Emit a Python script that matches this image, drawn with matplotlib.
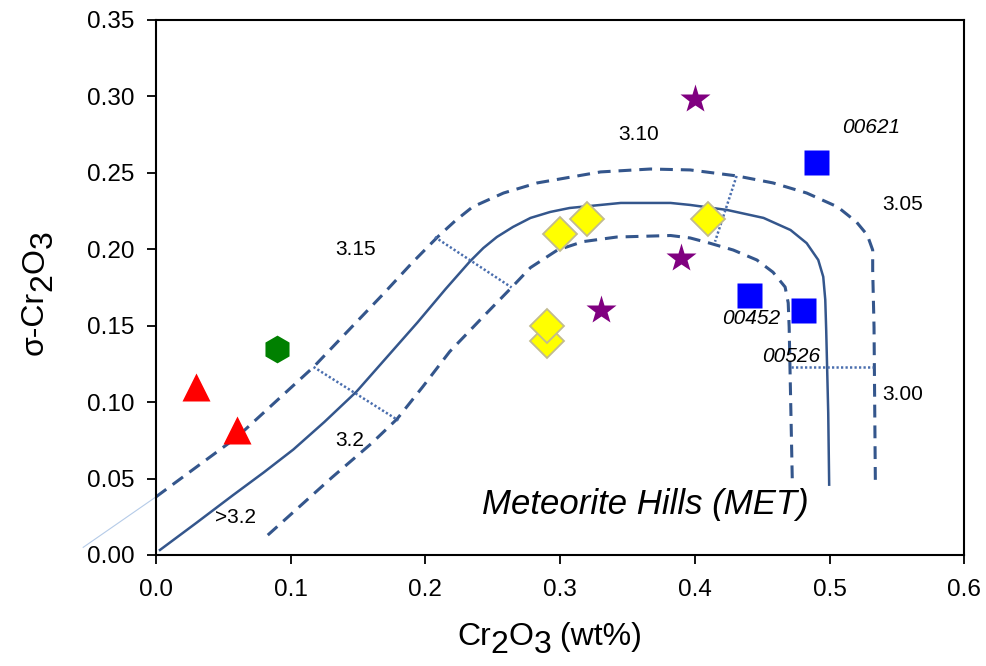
#!/usr/bin/env python3
"""sigma-Cr2O3 vs Cr2O3 plot -- Meteorite Hills (MET) chondrites."""

import matplotlib
matplotlib.use("Agg")
import matplotlib.pyplot as plt

plt.rcParams["font.family"] = ["Liberation Sans", "DejaVu Sans"]

# -- colours ------------------------------------------------------------------
curve_col = "#34568c"
dot_col = "#4a6eae"

# -- data: petrologic-type curves ---------------------------------------------
mid_x = [0.003, 0.03, 0.057, 0.08, 0.102, 0.125, 0.149, 0.17, 0.194, 0.215,
         0.233, 0.243, 0.253, 0.265, 0.278, 0.2926, 0.307, 0.345, 0.382,
         0.3965, 0.424, 0.451, 0.471, 0.483, 0.4916, 0.4953, 0.4968, 0.4975,
         0.499, 0.4997]
mid_y = [0.0033, 0.021, 0.039, 0.054, 0.069, 0.087, 0.107, 0.128, 0.152, 0.174,
         0.192, 0.2008, 0.208, 0.2146, 0.2205, 0.2244, 0.227, 0.2303, 0.2303,
         0.229, 0.2257, 0.2205, 0.2126, 0.204, 0.193, 0.182, 0.167, 0.147,
         0.093, 0.046]

upper_x = [0.0, 0.06, 0.117, 0.169, 0.19, 0.209, 0.222, 0.235, 0.258, 0.283,
           0.33, 0.367, 0.3965, 0.431, 0.458, 0.483, 0.506, 0.52, 0.528,
           0.532, 0.532, 0.533, 0.534]
upper_y = [0.038, 0.077, 0.123, 0.171, 0.191, 0.208, 0.2185, 0.2277, 0.2368,
           0.2434, 0.2506, 0.2525, 0.2519, 0.248, 0.2434, 0.2368, 0.2277,
           0.2178, 0.2093, 0.1995, 0.1865, 0.149, 0.046]

lower_x = [0.083, 0.131, 0.16, 0.179, 0.198, 0.218, 0.243, 0.264, 0.278, 0.298,
           0.317, 0.342, 0.382, 0.3965, 0.411, 0.4285, 0.446, 0.458, 0.467,
           0.4693, 0.47, 0.4723]
lower_y = [0.013, 0.051, 0.073, 0.089, 0.110, 0.133, 0.156, 0.175, 0.188,
           0.1995, 0.205, 0.208, 0.209, 0.2074, 0.204, 0.1995, 0.193, 0.185,
           0.1753, 0.1649, 0.149, 0.050]

# faint extension of the upper curve beyond the y axis
ext_x = [-0.054, 0.0]
ext_y = [0.005, 0.038]

# dotted boundaries between petrologic types
div_x = [[0.117, 0.180], [0.207, 0.264], [0.431, 0.415], [0.471, 0.532]]
div_y = [[0.123, 0.088], [0.208, 0.175], [0.248, 0.205], [0.123, 0.123]]

# -- data: meteorites ---------------------------------------------------------
tri_x = [0.03, 0.06]
tri_y = [0.110, 0.082]
hex_x = [0.09]
hex_y = [0.135]
dia_x = [0.29, 0.29, 0.30, 0.32, 0.41]
dia_y = [0.14, 0.15, 0.21, 0.22, 0.22]
star_x = [0.40, 0.39, 0.33]
star_y = [0.298, 0.194, 0.160]
sq_x = [0.49, 0.44, 0.48]
sq_y = [0.257, 0.170, 0.160]

# -- labels -------------------------------------------------------------------
type_labels = ["3.10", "3.15", "3.2", ">3.2", "3.05", "3.00"]
type_lx = [0.358, 0.1485, 0.144, 0.0587, 0.5543, 0.554]
type_ly = [0.2748, 0.1999, 0.0749, 0.0242, 0.2293, 0.1047]

met_labels = ["00621", "00452", "00526"]
met_lx = [0.531, 0.4418, 0.4715]
met_ly = [0.2797, 0.1547, 0.1299]

# axis titles split into (text, is_subscript) pieces
xlabel_parts = [("Cr", False), ("2", True), ("O", False), ("3", True),
                (" (wt%)", False)]
ylabel_parts = [("σ-Cr", False), ("2", True), ("O", False), ("3", True)]

# -- figure -------------------------------------------------------------------
fig = plt.figure(figsize=(9.87, 6.66), dpi=100)
ax = fig.add_axes([0.158, 0.1667, 0.819, 0.8033])
ax.set_xlim(0, 0.6)
ax.set_ylim(0, 0.35)

ax.plot(ext_x, ext_y, color="#b5cbe8", lw=0.8, clip_on=False, zorder=1)
ax.plot(mid_x, mid_y, color=curve_col, lw=1.8, zorder=2)
for xs, ys in ((upper_x, upper_y), (lower_x, lower_y)):
    ax.plot(xs, ys, color=curve_col, lw=2.2, dashes=(4.2, 2.6), zorder=2)
for xs, ys in zip(div_x, div_y):
    ax.plot(xs, ys, color=dot_col, lw=1.8, dashes=(0.9, 0.9), zorder=2)

ax.plot(tri_x, tri_y, "^", ms=20, color="#ff0000", mec="none", ls="none",
        zorder=3)
ax.plot(hex_x, hex_y, "h", ms=20, color="#008000", mec="none", ls="none",
        zorder=3)
ax.plot(dia_x, dia_y, "D", ms=17, mfc="#ffff00", mec="#c2bb8e", mew=1.3,
        ls="none", zorder=3)
ax.plot(star_x, star_y, "*", ms=22, color="#800080", mec="none", ls="none",
        zorder=3)
ax.plot(sq_x, sq_y, "s", ms=18, color="#0000ff", mec="none", ls="none",
        zorder=3)

for t, x, y in zip(type_labels, type_lx, type_ly):
    ax.text(x, y, t, ha="center", va="center", fontsize=15, zorder=4)
for t, x, y in zip(met_labels, met_lx, met_ly):
    ax.text(x, y, t, ha="center", va="center", fontsize=15, style="italic",
            zorder=4)

ax.text(0.363, 0.0327, "Meteorite Hills (MET)", ha="center", va="center",
        fontsize=25, style="italic", zorder=4)

# -- axes styling -------------------------------------------------------------
ax.set_xticks([0.0, 0.1, 0.2, 0.3, 0.4, 0.5, 0.6])
ax.set_yticks([0.0, 0.05, 0.10, 0.15, 0.20, 0.25, 0.30, 0.35])
ax.set_xticklabels(["0.0", "0.1", "0.2", "0.3", "0.4", "0.5", "0.6"])
ax.set_yticklabels(["0.00", "0.05", "0.10", "0.15", "0.20", "0.25", "0.30",
                    "0.35"])
ax.tick_params(axis="both", direction="out", length=6.5, width=1.3,
               labelsize=17.5)
ax.tick_params(axis="x", pad=11)
ax.tick_params(axis="y", pad=9)
for sp in ax.spines.values():
    sp.set_linewidth(1.5)

# axis titles with full-size, lowered subscripts (chained text pieces)
lab_size = 23
sub_drop = 6

first, rest = xlabel_parts[0], xlabel_parts[1:]
prev = ax.text(0.3725, -0.168, first[0], transform=ax.transAxes,
               ha="left", va="baseline", fontsize=lab_size)
prev_sub = first[1]
for txt, is_sub in rest:
    dy = (-sub_drop if is_sub else 0) + (sub_drop if prev_sub else 0)
    prev = ax.annotate(txt, xy=(1, 0), xycoords=prev, xytext=(0, dy),
                       textcoords="offset points", ha="left", va="bottom",
                       fontsize=lab_size)
    prev_sub = is_sub

first, rest = ylabel_parts[0], ylabel_parts[1:]
prev = ax.text(-0.131, 0.374, first[0], transform=ax.transAxes,
               ha="right", va="bottom", rotation=90, fontsize=lab_size)
prev_sub = first[1]
for txt, is_sub in rest:
    dx = (sub_drop if is_sub else 0) - (sub_drop if prev_sub else 0)
    prev = ax.annotate(txt, xy=(1, 1), xycoords=prev, xytext=(dx, 0),
                       textcoords="offset points", ha="right", va="bottom",
                       rotation=90, fontsize=lab_size)
    prev_sub = is_sub

fig.savefig("out.png", dpi=100)
plt.close(fig)
